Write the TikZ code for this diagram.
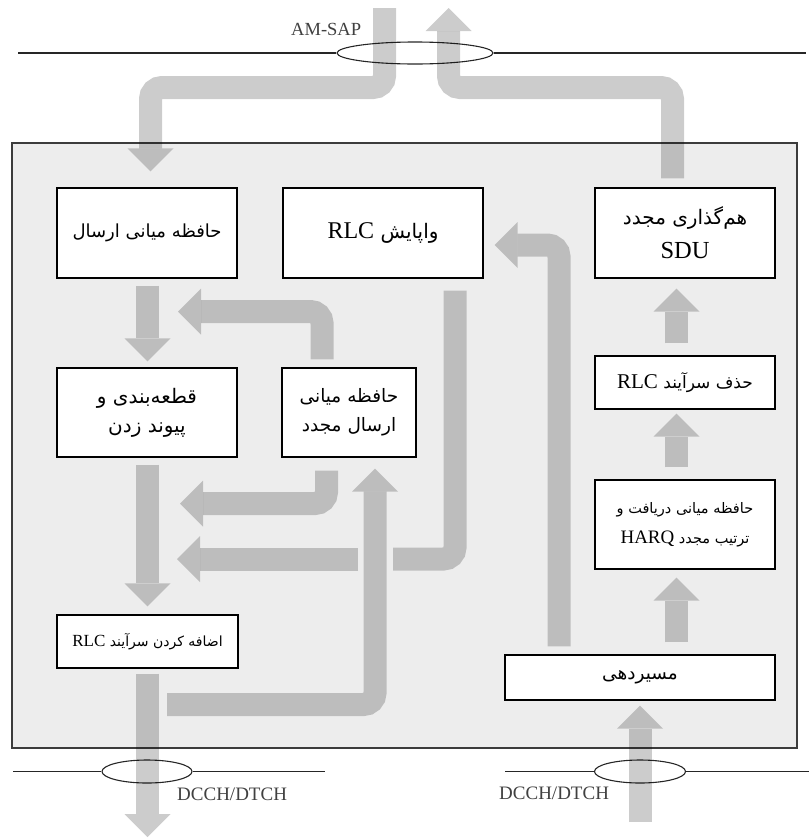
\documentclass[tikz,border=0pt]{standalone}
\usepackage{fontspec}
\setmainfont{Liberation Serif}
\newfontfamily\fa[Script=Arabic]{DejaVu Sans}
\TeXXeTstate=1
\usetikzlibrary{arrows.meta,calc,shapes.geometric}
\newcommand\rtl[1]{\beginR#1\endR}
\newcommand\ltr[1]{\beginL#1\endL{}}
\newcommand\fasize[2]{\fontsize{#1}{#2}\fa}
\newcommand\lasize[2]{\fontsize{#1}{#2}\rmfamily}
\definecolor{panel}{RGB}{237,237,237}
\definecolor{rim}{RGB}{60,60,60}
\definecolor{labelgray}{RGB}{64,64,64}

\begin{document}
\begin{tikzpicture}[x=1pt,y=-1pt,
  box/.style={draw=black, line width=1.2pt, fill=white, inner sep=0pt, align=center},
  flow/.style={draw=black, opacity=0.2, line width=23pt, rounded corners=11.5pt,
    -{Triangle[width=46pt,length=23pt,line width=0pt]}},
  band/.style={draw=black, opacity=0.2, line width=23pt, rounded corners=11.5pt},
  sap/.style={draw=black!85, line width=1.1pt},
  ring/.style={ellipse, draw=black!85, line width=1.1pt, inner sep=0pt},
  chan/.style={font=\fontsize{19}{19}\selectfont, text=labelgray, inner sep=0pt, anchor=base west}]
\useasboundingbox (0,0) rectangle (809,838);

% RLC entity frame
\draw[rim, line width=1.5pt, fill=panel] (12,143) rectangle (797,748);

% service access points
\node[ring, minimum width=156pt, minimum height=22pt] (sapTop) at (415,53) {};
\draw[sap] (18,53) -- (sapTop.west);
\draw[sap] (sapTop.east) -- (806,53);
\node[ring, minimum width=90pt, minimum height=23pt] (sapL) at (147,771.5) {};
\draw[sap] (13,771.5) -- (sapL.west);
\draw[sap] (sapL.east) -- (325,771.5);
\node[ring, minimum width=91pt, minimum height=23pt] (sapR) at (640,771.5) {};
\draw[sap] (505,771.5) -- (sapR.west);
\draw[sap] (sapR.east) -- (809,771.5);

\node[chan, font=\fontsize{18.5}{18.5}\selectfont] (amsap) at (291,35) {AM-SAP};
\node[chan] (chL) at (177,800) {DCCH/DTCH};
\node[chan] (chR) at (499,799) {DCCH/DTCH};

% processing blocks
\node[box, minimum width=180pt, minimum height=90pt, font=\fasize{18}{30}] (buf) at (147,233)
  {\rtl{حافظه میانی ارسال}};
\node[box, minimum width=200pt, minimum height=90pt, font=\fasize{20}{30}] (ctrl) at (383,233)
  {\rtl{واپایش \ltr{\lasize{24}{30}RLC}}};
\node[box, minimum width=180pt, minimum height=90pt, font=\fasize{20}{34}] (reasm) at (685,233)
  {\rtl{هم‌گذاری مجدد}\\{\lasize{24.5}{34}SDU}};
\node[box, minimum width=180pt, minimum height=89pt, font=\fasize{20}{29}] (seg) at (147,412.5)
  {\rtl{قطعه‌بندی و}\\\rtl{پیوند زدن}};
\node[box, minimum width=134pt, minimum height=89pt, font=\fasize{18.5}{29}] (rbuf) at (349,412.5)
  {\rtl{حافظه میانی}\\\rtl{ارسال مجدد}};
\node[box, minimum width=180pt, minimum height=53pt, font=\fasize{17}{20}] (hdr) at (685,382.5)
  {\rtl{حذف سرآیند \ltr{\lasize{21}{20}RLC}}};
\node[box, minimum width=180pt, minimum height=89pt, font=\fasize{14.5}{30}] (harq) at (685,524.5)
  {\rtl{حافظه میانی دریافت و}\\\rtl{ترتیب مجدد \ltr{\lasize{19}{30}HARQ}}};
\node[box, minimum width=181pt, minimum height=53pt, font=\fasize{14}{18}] (add) at (147.5,641.5)
  {\rtl{اضافه کردن سرآیند \ltr{\lasize{17}{18}RLC}}};
\node[box, minimum width=270pt, minimum height=45pt, font=\fasize{18.5}{20}] (route) at (640,677.5)
  {\rtl{مسیردهی}};

% free ends of the flows
\coordinate (inTop) at (384.5,8);
\coordinate (outTop) at (448.5,8);
\coordinate (inBot) at (640,822);
\coordinate (outBot) at (147.5,837);

% transmitting side
\draw[flow] (inTop) -- (384.5,87.5) -- (150.5,87.5) -- ($(buf.north)+(3.5,-16)$);
\draw[flow] ($(buf.south)+(0.5,7)$) -- ($(seg.north)+(0.5,-6)$);
\draw[flow] ($(rbuf.north)+(-27,-8)$) -- (322,311.5) -- (178,311.5);
\draw[flow] ($(seg.south)+(0.5,7)$) -- ($(add.north)+(0,-8)$);
\draw[flow] ($(rbuf.south)+(-22.5,13)$) -- (326.5,503.5) -- (180,503.5);
\draw[band] ($(ctrl.south)+(72,12)$) -- (455,559) -- (393,559);
\draw[flow] (358,559) -- (177,559);
\draw[flow] (167,704.5) -- (375,704.5) -- ($(rbuf.south)+(26,11)$);
\draw[flow] ($(add.south)+(0,5)$) -- (outBot);

% receiving side
\draw[flow] (inBot) -- ($(route.south)+(0,5)$);
\draw[flow] ($(route.north)+(-81,-8)$) -- (559,245) -- ($(ctrl.east)+(11,12)$);
\draw[flow] ($(route.north)+(36.5,-12)$) -- ($(harq.south)+(-8.5,8)$);
\draw[flow] ($(harq.north)+(-8.5,-12)$) -- ($(hdr.south)+(-8.5,4)$);
\draw[flow] ($(hdr.north)+(-8.5,-12)$) -- ($(reasm.south)+(-8.5,10)$);
\draw[flow] ($(reasm.north)+(-12.5,-9)$) -- (672.5,87.5) -- (448.5,87.5) -- (outTop);
\end{tikzpicture}
\end{document}
